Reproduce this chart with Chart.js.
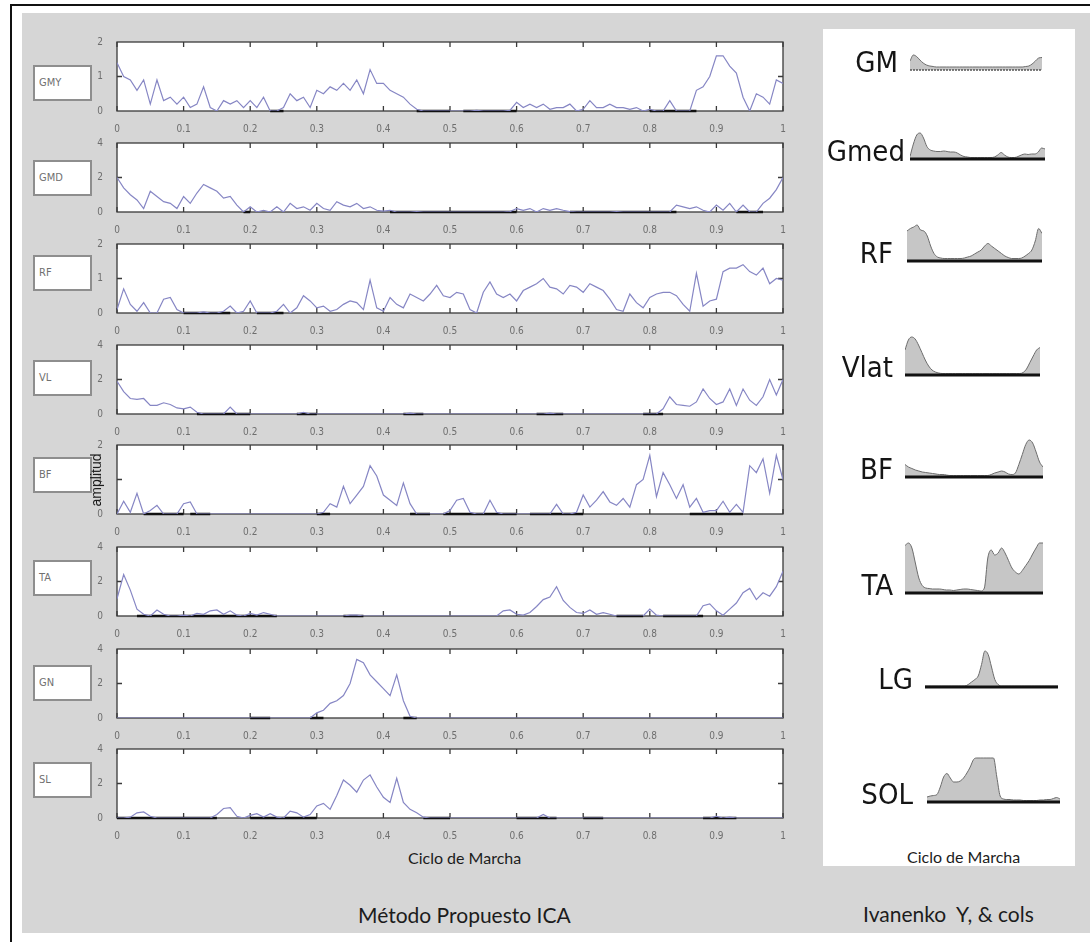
<!DOCTYPE html>
<html>
<head>
<meta charset="utf-8">
<title>Método Propuesto ICA - Ivanenko</title>
<script src="https://cdn.jsdelivr.net/npm/chart.js@4.4.1/dist/chart.umd.min.js"></script>
<style>
  body { margin:0; width:1090px; height:942px; position:relative; overflow:hidden; background:#fff;
         font-family:"Liberation Sans", Arial, sans-serif; }
  .abs { position:absolute; }
  canvas { position:absolute; }
  .box { position:absolute; left:33px; width:51px; height:32px; background:#fff; border:2px solid #8e8e8e;
         font:11px "Liberation Sans Narrow","DejaVu Sans Condensed",sans-serif; color:#707070;
         line-height:32px; padding-left:4px; box-sizing:content-box; }
  .mlab { position:absolute; left:0; text-align:right; line-height:29px;
          font:29px "Liberation Sans Narrow","DejaVu Sans Condensed",sans-serif; color:#151515; }
  .cap { position:absolute; font-family:Lato,"Open Sans",sans-serif; color:#1c1c1c; white-space:nowrap; }
</style>
</head>
<body>
<div class="abs" style="left:10px;top:4px;width:1080px;height:2px;background:#111"></div>
<div class="abs" style="left:10px;top:4px;width:2px;height:938px;background:#111"></div>
<div class="abs" style="left:22px;top:13px;width:1068px;height:920px;background:#d6d6d6"></div>
<div class="abs" style="left:823px;top:29px;width:252px;height:837px;background:#fff"></div>
<div id="root"></div>

<script>
// sampling grid of the gait cycle (0 .. 1)
const cyc = Array.from({length: 101}, (_, i) => i / 100);
const cycSmall = Array.from({length: 41}, (_, i) => i / 40);

const channels = ['GMY', 'GMD', 'RF', 'VL', 'BF', 'TA', 'GN', 'SL'];
const yMax = [2, 4, 2, 4, 2, 4, 4, 4];

const gmy = [1.4,1.0,0.9,0.6,0.9,0.2,0.9,0.3,0.4,0.2,
  0.4,0.1,0.2,0.7,0.1,0,0.3,0.2,0.3,0.1,
  0.3,0.1,0.4,0,0,0.1,0.5,0.3,0.4,0.1,
  0.6,0.5,0.7,0.6,0.8,0.6,0.9,0.5,1.2,0.8,
  0.8,0.6,0.5,0.4,0.2,0.05,0,0,0,0,
  0,0,0,0,0.02,0,0,0,0,0.02,
  0.25,0.1,0.2,0.1,0.2,0.05,0.1,0.1,0.2,0,
  0.05,0.3,0.1,0.1,0.2,0.1,0.1,0.05,0.1,0,
  0.05,0,0,0.3,0,0,0,0.6,0.7,1.0,
  1.6,1.6,1.3,1.1,0.4,0,0.5,0.4,0.2,0.9,
  0.8];
const gmd = [2.0,1.4,1.0,0.7,0.2,1.2,0.9,0.6,0.5,0.2,
  0.9,0.5,1.1,1.6,1.4,1.2,0.8,0.9,0.4,0,
  0.3,0,0.1,0,0.3,0,0.5,0.2,0.3,0.1,
  0.5,0.2,0.1,0.6,0.4,0.3,0.5,0.2,0.3,0.1,
  0.05,0.1,0,0,0,0.02,0,0,0,0,
  0,0,0,0,0,0,0,0,0,0.02,
  0.2,0.1,0.2,0,0.2,0.1,0.2,0.1,0.02,0,
  0,0,0,0,0,0.02,0,0,0,0,
  0,0,0,0,0.4,0.3,0.2,0.3,0.1,0,
  0.4,0.1,0.5,0,0.4,0,0,0.5,0.8,1.3,
  2.0];
const rf = [0.1,0.7,0.25,0.05,0.3,0,0,0.4,0.45,0.1,
  0,0,0,0.03,0,0,0.05,0.2,0,0.05,
  0.35,0,0,0,0.05,0.25,0,0.15,0.5,0.35,
  0.15,0.2,0.05,0.1,0.25,0.35,0.3,0.1,0.95,0.15,
  0.05,0.45,0.25,0.15,0.55,0.45,0.35,0.55,0.8,0.5,
  0.45,0.6,0.55,0.1,0,0.6,0.9,0.55,0.45,0.55,
  0.35,0.65,0.75,0.85,1.0,0.75,0.7,0.55,0.8,0.75,
  0.6,0.85,0.75,0.65,0.4,0.1,0.05,0.55,0.3,0.15,
  0.45,0.55,0.6,0.6,0.5,0.25,0.05,1.15,0.2,0.35,
  0.4,1.2,1.3,1.3,1.4,1.2,1.1,1.3,0.85,1.0,
  0.95];
const vl = [1.9,1.3,0.9,0.85,0.9,0.5,0.5,0.65,0.55,0.35,
  0.3,0.4,0.1,0,0,0,0,0.4,0,0,
  0,0,0,0,0,0,0,0,0.1,0,
  0,0,0,0,0,0,0,0,0,0,
  0,0,0,0,0.05,0,0,0,0,0,
  0,0,0,0,0,0,0,0,0,0,
  0,0,0,0,0,0.05,0,0,0,0,
  0,0,0,0,0,0,0,0,0,0,
  0,0,0.3,1.0,0.55,0.5,0.45,0.7,1.45,0.9,
  0.55,0.7,1.45,0.5,1.45,0.8,0.5,1.0,2.0,1.1,
  2.0];
const bf = [0,0.37,0.05,0.6,0,0.1,0.25,0,0,0,
  0.3,0.35,0,0,0,0,0,0,0,0,
  0,0,0,0,0,0,0,0,0,0,
  0,0.05,0.3,0.2,0.8,0.3,0.55,0.8,1.4,1.1,
  0.55,0.4,0.25,0.9,0.3,0,0,0,0,0,
  0.1,0.4,0.45,0.05,0,0,0.4,0.05,0,0,
  0,0,0,0,0,0,0.28,0,0,0.05,
  0.55,0.2,0.4,0.65,0.35,0.25,0.45,0.2,0.85,1.0,
  1.7,0.5,1.2,0.85,0.45,0.85,0.2,0.45,0.05,0.1,
  0.1,0.37,0.05,0.28,0.05,1.4,1.2,1.6,0.6,1.7,
  1.0];
const ta = [1.0,2.4,1.5,0.4,0.1,0,0.35,0.1,0,0,
  0.05,0,0.15,0.1,0.3,0.35,0.1,0.3,0.05,0,
  0.15,0.05,0.2,0.1,0,0,0,0,0,0,
  0,0,0,0,0,0.05,0.05,0,0,0,
  0,0,0,0,0,0,0,0,0,0,
  0,0,0,0,0,0,0,0,0.3,0.35,
  0.1,0.05,0.2,0.55,0.95,1.1,1.7,0.9,0.5,0.2,
  0.15,0.35,0.1,0.2,0.1,0,0,0,0,0,
  0.4,0.05,0,0,0,0,0,0,0.6,0.7,
  0.3,0.05,0.4,0.75,1.35,1.6,0.95,1.35,1.15,1.7,
  2.6];
const gn = [0,0,0,0,0,0,0,0,0,0,
  0,0,0,0,0,0,0,0,0,0,
  0,0,0,0,0,0,0,0,0,0,
  0.3,0.45,0.85,1.0,1.3,2.0,3.4,3.2,2.5,2.1,
  1.7,1.3,2.5,1.0,0.1,0,0,0,0,0,
  0,0,0,0,0,0,0,0,0,0,
  0,0,0,0,0,0,0,0,0,0,
  0,0,0,0,0,0,0,0,0,0,
  0,0,0,0,0,0,0,0,0,0,
  0,0,0,0,0,0,0,0,0,0,
  0];
const sl = [0,0,0.05,0.3,0.35,0.1,0,0,0,0,
  0,0,0,0,0,0.2,0.55,0.6,0.1,0,
  0.15,0.25,0.05,0.25,0.05,0,0.4,0.3,0.05,0.2,
  0.7,0.85,0.5,1.3,2.2,1.9,1.5,2.2,2.5,1.8,
  1.2,0.9,2.3,0.9,0.5,0.3,0.05,0,0,0,
  0,0,0,0,0,0,0,0,0,0,
  0,0,0,0,0.2,0,0,0,0,0,
  0,0,0,0,0,0,0,0,0,0,
  0,0,0,0,0,0,0,0,0,0,
  0.1,0,0.05,0,0,0,0,0,0,0,
  0];
const signals = [gmy, gmd, rf, vl, bf, ta, gn, sl];

// black "off" stretches drawn on the zero line
const offSegs = [
  [[0.23,0.25],[0.45,0.5],[0.52,0.6],[0.8,0.87]],
  [[0.19,0.2],[0.41,0.6],[0.68,0.84],[0.93,0.97]],
  [[0.1,0.17],[0.21,0.25]],
  [[0.12,0.2],[0.27,0.3],[0.43,0.46],[0.63,0.67],[0.79,0.82]],
  [[0.04,0.1],[0.11,0.14],[0.3,0.32],[0.44,0.47],[0.49,0.6],[0.62,0.7],[0.86,0.94]],
  [[0.03,0.24],[0.34,0.37],[0.75,0.79],[0.82,0.88]],
  [[0.2,0.23],[0.29,0.31],[0.43,0.45]],
  [[0.0,0.15],[0.2,0.3],[0.46,0.5],[0.6,0.66],[0.7,0.73],[0.88,0.93]]
];

// Ivanenko reference profiles (relative amplitude)
const refNames = ['GM', 'Gmed', 'RF', 'Vlat', 'BF', 'TA', 'LG', 'SOL'];
const refGM = [0.18,0.3,0.27,0.2,0.14,0.1,0.08,0.07,0.06,0.06,
  0.06,0.06,0.06,0.06,0.06,0.06,0.06,0.06,0.06,0.06,
  0.06,0.06,0.06,0.06,0.06,0.06,0.06,0.06,0.06,0.06,
  0.06,0.06,0.06,0.06,0.06,0.07,0.08,0.12,0.18,0.24,0.25];
const refGmed = [0.05,0.3,0.48,0.52,0.42,0.25,0.18,0.16,0.15,0.15,
  0.16,0.15,0.14,0.14,0.12,0.08,0.05,0.04,0.03,0.03,
  0.03,0.03,0.03,0.03,0.03,0.04,0.08,0.13,0.08,0.04,
  0.03,0.03,0.05,0.08,0.1,0.09,0.1,0.1,0.14,0.22,0.2];
const refRF = [0.6,0.65,0.68,0.72,0.62,0.6,0.5,0.3,0.15,0.08,
  0.06,0.05,0.05,0.05,0.05,0.05,0.05,0.06,0.08,0.1,
  0.14,0.18,0.22,0.3,0.35,0.3,0.25,0.2,0.15,0.1,
  0.07,0.05,0.05,0.05,0.06,0.1,0.15,0.22,0.4,0.65,0.55];
const refVlat = [0.5,0.7,0.76,0.72,0.6,0.45,0.3,0.18,0.1,0.06,
  0.04,0.03,0.03,0.03,0.03,0.03,0.03,0.03,0.03,0.03,
  0.03,0.03,0.03,0.03,0.03,0.03,0.03,0.03,0.03,0.03,
  0.03,0.03,0.03,0.03,0.03,0.05,0.12,0.25,0.38,0.5,0.55];
const refBF = [0.25,0.2,0.17,0.14,0.12,0.1,0.09,0.08,0.07,0.06,
  0.05,0.05,0.04,0.03,0.03,0.03,0.03,0.03,0.03,0.03,
  0.03,0.03,0.03,0.03,0.03,0.05,0.08,0.1,0.12,0.1,
  0.06,0.05,0.08,0.25,0.45,0.65,0.74,0.68,0.5,0.3,0.2];
const refTA = [0.95,1.0,0.9,0.6,0.3,0.15,0.1,0.09,0.08,0.08,
  0.08,0.07,0.06,0.06,0.05,0.06,0.07,0.08,0.08,0.07,
  0.06,0.05,0.04,0.1,0.7,0.86,0.76,0.8,0.9,0.8,
  0.65,0.5,0.42,0.38,0.45,0.55,0.65,0.78,0.9,1.0,1.0];
const refLG = [0.02,0.02,0.02,0.02,0.02,0.02,0.02,0.02,0.02,0.02,
  0.02,0.02,0.02,0.05,0.1,0.15,0.22,0.45,0.72,0.65,
  0.4,0.15,0.05,0.02,0.02,0.02,0.02,0.02,0.02,0.02,
  0.02,0.02,0.02,0.02,0.02,0.02,0.02,0.02,0.02,0.02,0.02];
const refSOL = [0.1,0.12,0.13,0.15,0.3,0.5,0.57,0.48,0.4,0.4,
  0.42,0.48,0.58,0.7,0.85,0.88,0.88,0.88,0.88,0.88,
  0.88,0.5,0.12,0.06,0.05,0.05,0.04,0.04,0.04,0.03,
  0.03,0.03,0.03,0.03,0.04,0.04,0.05,0.05,0.07,0.09,0.06];
const refs = [refGM, refGmed, refRF, refVlat, refBF, refTA, refLG, refSOL];

// layout
const plotTops = [40, 141, 242, 343, 443, 545, 647, 747];
const boxTops = [65, 160, 255, 360, 457, 560, 665, 762];
const plotH = 71;
const refLeft = [910, 910, 907, 905, 905, 905, 925, 927];
const refWidth = [132, 135, 135, 135, 138, 138, 133, 133];
const refBase = [70, 159, 261, 375, 477, 593, 687, 802];
const refLabelRight = [898, 905, 893, 893, 893, 893, 913, 913];

const root = document.getElementById('root');
const tickFont = {family: '"Liberation Sans Narrow","DejaVu Sans Condensed",sans-serif', size: 10};

const framePlugin = {
  id: 'frame',
  beforeDatasetsDraw(chart) {
    const {ctx, chartArea: a, scales: {x, y}} = chart;
    ctx.save();
    ctx.fillStyle = '#fff';
    ctx.fillRect(a.left, a.top, a.right - a.left, a.bottom - a.top);
    ctx.strokeStyle = '#3a3a3a';
    ctx.lineWidth = 1.3;
    ctx.strokeRect(a.left, a.top, a.right - a.left, a.bottom - a.top);
    ctx.beginPath();
    x.ticks.forEach(t => {
      const px = x.getPixelForValue(t.value);
      ctx.moveTo(px, a.top); ctx.lineTo(px, a.top + 5);
      ctx.moveTo(px, a.bottom); ctx.lineTo(px, a.bottom - 5);
    });
    const mid = y.getPixelForValue(y.max / 2);
    ctx.moveTo(a.left, mid); ctx.lineTo(a.left + 5, mid);
    ctx.moveTo(a.right, mid); ctx.lineTo(a.right - 5, mid);
    ctx.stroke();
    ctx.restore();
  }
};

channels.forEach((name, k) => {
  const box = document.createElement('div');
  box.className = 'box';
  box.style.top = boxTops[k] + 'px';
  box.textContent = name;
  root.appendChild(box);

  const cv = document.createElement('canvas');
  cv.width = 715;
  cv.height = plotH + 10 + 24;
  cv.style.left = '80px';
  cv.style.top = (plotTops[k] - 10) + 'px';
  root.appendChild(cv);

  const offPts = [];
  offSegs[k].forEach(([s, e]) => offPts.push({x: s, y: 0}, {x: e, y: 0}, {x: e, y: null}));

  new Chart(cv, {
    type: 'line',
    data: {
      datasets: [
        {data: signals[k].map((v, i) => ({x: cyc[i], y: v})), borderColor: '#8686c4', borderWidth: 1.2,
         pointRadius: 0, tension: 0},
        {data: offPts, borderColor: '#111', borderWidth: 2.5, pointRadius: 0, spanGaps: false, clip: 4}
      ]
    },
    options: {
      responsive: false, animation: false, events: [],
      plugins: {legend: {display: false}, tooltip: {enabled: false}},
      layout: {padding: {top: 10, right: 12, left: 0, bottom: 0}},
      scales: {
        x: {type: 'linear', min: 0, max: 1, grid: {display: false}, border: {display: false},
            ticks: {stepSize: 0.1, autoSkip: false, maxRotation: 0, color: '#6e6e6e', font: tickFont, padding: 4,
                    callback: v => { const r = Math.round(v * 10) / 10; return r === 0 ? '0' : r === 1 ? '1' : r.toFixed(1); }},
            afterFit: s => { s.height = 24; }},
        y: {min: 0, max: yMax[k], grid: {display: false}, border: {display: false},
            ticks: {stepSize: yMax[k] / 2, color: '#6e6e6e', font: tickFont, padding: 6},
            afterFit: s => { s.width = 37; }}
      }
    },
    plugins: [framePlugin]
  });
});

const basePlugin = {
  id: 'base',
  afterDatasetsDraw(chart, args, opts) {
    const {ctx, chartArea: a, scales: {y}} = chart;
    const py = y.getPixelForValue(0);
    ctx.save();
    ctx.strokeStyle = opts.color;
    ctx.lineWidth = opts.width;
    ctx.setLineDash(opts.dash || []);
    ctx.beginPath();
    ctx.moveTo(a.left, py); ctx.lineTo(a.right, py);
    ctx.stroke();
    ctx.restore();
  }
};

refNames.forEach((name, k) => {
  const lab = document.createElement('div');
  lab.className = 'mlab';
  lab.style.width = refLabelRight[k] + 'px';
  lab.style.top = (refBase[k] - 25) + 'px';
  lab.textContent = name;
  root.appendChild(lab);

  const cv = document.createElement('canvas');
  cv.width = refWidth[k];
  cv.height = 60;
  cv.style.left = refLeft[k] + 'px';
  cv.style.top = (refBase[k] - 57) + 'px';
  root.appendChild(cv);

  new Chart(cv, {
    type: 'line',
    data: {
      datasets: [{data: refs[k].map((v, i) => ({x: cycSmall[i], y: v})), fill: 'origin',
                  backgroundColor: '#c6c6c6', borderColor: '#6c6c6c', borderWidth: 1,
                  pointRadius: 0, cubicInterpolationMode: 'monotone'}]
    },
    options: {
      responsive: false, animation: false, events: [],
      layout: {padding: {top: 0, right: 0, left: 0, bottom: 3}},
      plugins: {legend: {display: false}, tooltip: {enabled: false},
                base: k === 0 ? {color: '#555', width: 1.5, dash: [2, 1]} : {color: '#111', width: 3}},
      scales: {
        x: {type: 'linear', min: 0, max: 1, display: false},
        y: {min: 0, max: 1.14, display: false}
      }
    },
    plugins: [basePlugin]
  });
});

const caps = [
  ['amplitud', 0, 0, 14],
  ['Ciclo de Marcha', 408, 848, 16],
  ['Método Propuesto ICA', 358, 902, 21],
  ['Ciclo de Marcha', 907, 847, 16],
  ['Ivanenko\u00a0 Y, & cols', 863, 901, 21]
];
caps.forEach(([t, x, y, s], i) => {
  const d = document.createElement('div');
  d.className = 'cap';
  d.textContent = t;
  d.style.fontSize = s + 'px';
  if (i === 0) {
    d.style.fontFamily = '"Liberation Sans", Arial, sans-serif';
    d.style.left = '66px';
    d.style.top = '472px';
    d.style.width = '60px';
    d.style.textAlign = 'center';
    d.style.lineHeight = '16px';
    d.style.transform = 'rotate(-90deg)';
  } else {
    d.style.left = x + 'px';
    d.style.top = y + 'px';
  }
  root.appendChild(d);
});
</script>
</body>
</html>
